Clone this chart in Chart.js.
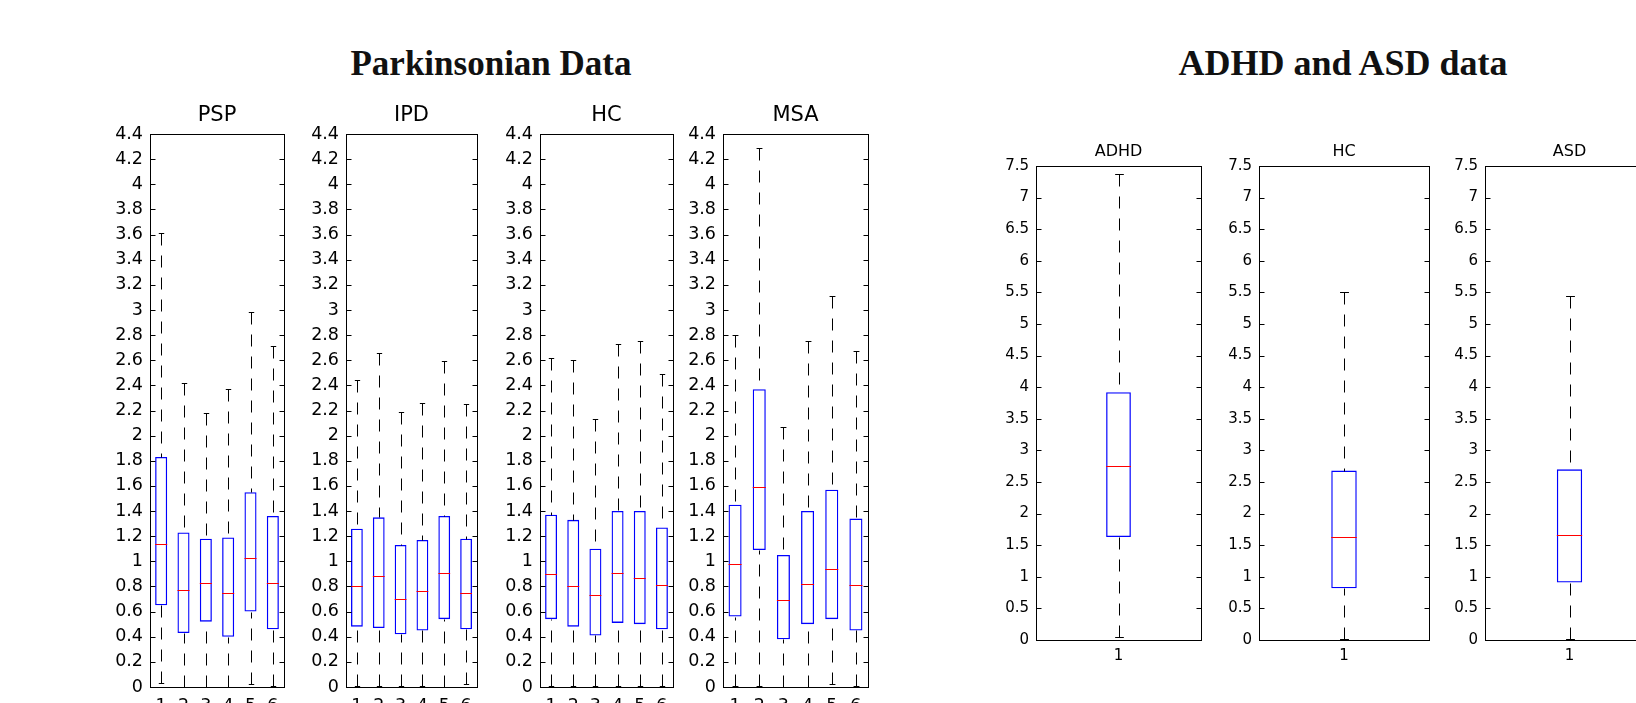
<!DOCTYPE html>
<html>
<head>
<meta charset="utf-8">
<title>Parkinsonian / ADHD and ASD boxplots</title>
<script src="https://cdn.jsdelivr.net/npm/chart.js@4"></script>
<style>
  body { margin: 0; background: #fff; width: 1636px; height: 703px; overflow: hidden; position: relative; }
  .bigtitle { position: absolute; font-family: "Liberation Serif", serif; font-weight: bold; font-size: 35px; line-height: 35px; color: #111; white-space: nowrap; transform: translateX(-50%); }
  canvas { position: absolute; }
</style>
</head>
<body>
<div class="bigtitle" style="left:491px; top:46px">Parkinsonian Data</div>
<div class="bigtitle" style="left:1343px; top:46px; font-size:36px">ADHD and ASD data</div>
<canvas id="psp"></canvas>
<canvas id="ipd"></canvas>
<canvas id="hc"></canvas>
<canvas id="msa"></canvas>
<canvas id="adhd"></canvas>
<canvas id="hc2"></canvas>
<canvas id="asd"></canvas>
<script>
// categories / ticks
const parkLabels = ['1', '2', '3', '4', '5', '6'];
const singleLabel = ['1'];
const parkTicks = [0, 0.2, 0.4, 0.6, 0.8, 1, 1.2, 1.4, 1.6, 1.8, 2, 2.2, 2.4, 2.6, 2.8, 3, 3.2, 3.4, 3.6, 3.8, 4, 4.2, 4.4];
const adTicks = [0, 0.5, 1, 1.5, 2, 2.5, 3, 3.5, 4, 4.5, 5, 5.5, 6, 6.5, 7, 7.5];

// Parkinsonian data (whisker min, Q1, median, Q3, whisker max)
const pspMin = [0.03, 0, 0, 0, 0.02, 0.01];
const pspQ1 = [0.65, 0.43, 0.52, 0.40, 0.60, 0.46];
const pspMed = [1.14, 0.77, 0.83, 0.75, 1.03, 0.83];
const pspQ3 = [1.83, 1.23, 1.18, 1.19, 1.55, 1.36];
const pspMax = [3.61, 2.42, 2.18, 2.37, 2.98, 2.71];

const ipdMin = [0.01, 0.01, 0.01, 0.01, 0, 0.02];
const ipdQ1 = [0.48, 0.47, 0.42, 0.45, 0.54, 0.46];
const ipdMed = [0.80, 0.88, 0.70, 0.76, 0.91, 0.75];
const ipdQ3 = [1.26, 1.35, 1.13, 1.17, 1.36, 1.18];
const ipdMax = [2.44, 2.66, 2.19, 2.26, 2.59, 2.25];

const hcMin = [0.01, 0.01, 0.01, 0.01, 0.01, 0.01];
const hcQ1 = [0.54, 0.48, 0.41, 0.51, 0.50, 0.46];
const hcMed = [0.90, 0.80, 0.73, 0.91, 0.87, 0.81];
const hcQ3 = [1.37, 1.33, 1.10, 1.40, 1.40, 1.27];
const hcMax = [2.62, 2.60, 2.13, 2.73, 2.75, 2.49];

const msaMin = [0.01, 0.01, 0, 0, 0.02, 0.01];
const msaQ1 = [0.56, 1.09, 0.38, 0.50, 0.54, 0.45];
const msaMed = [0.98, 1.59, 0.69, 0.82, 0.94, 0.81];
const msaQ3 = [1.45, 2.37, 1.05, 1.40, 1.57, 1.34];
const msaMax = [2.80, 4.29, 2.07, 2.75, 3.11, 2.67];

// ADHD and ASD data
const adhdMin = [0.04], adhdQ1 = [1.63], adhdMed = [2.75], adhdQ3 = [3.92], adhdMax = [7.38];
const hc2Min = [0.01], hc2Q1 = [0.82], hc2Med = [1.63], hc2Q3 = [2.68], hc2Max = [5.51];
const asdMin = [0.01], asdQ1 = [0.91], asdMed = [1.66], asdQ3 = [2.70], asdMax = [5.45];

// whiskers, caps, medians, frame and inner ticks
const boxDecor = {
  id: 'boxDecor',
  afterDatasetsDraw(chart, args, opts) {
    const ctx = chart.ctx;
    const y = chart.scales.y;
    const py = v => Math.round(y.getPixelForValue(v)) + 0.5;
    ctx.save();
    ctx.lineWidth = 1;
    chart.getDatasetMeta(0).data.forEach((bar, i) => {
      const cx = Math.round(bar.x) + 0.5;
      const half = bar.width / 2;
      const capHalf = half * opts.cap;
      ctx.strokeStyle = '#000';
      ctx.setLineDash([12, 10]);
      ctx.beginPath();
      ctx.moveTo(cx, py(opts.max[i])); ctx.lineTo(cx, py(opts.q3[i]));
      ctx.moveTo(cx, py(opts.min[i])); ctx.lineTo(cx, py(opts.q1[i]));
      ctx.stroke();
      ctx.setLineDash([]);
      ctx.beginPath();
      ctx.moveTo(cx - capHalf, py(opts.max[i])); ctx.lineTo(cx + capHalf, py(opts.max[i]));
      ctx.moveTo(cx - capHalf, py(opts.min[i])); ctx.lineTo(cx + capHalf, py(opts.min[i]));
      ctx.stroke();
      ctx.strokeStyle = '#ff0000';
      ctx.beginPath();
      ctx.moveTo(bar.x - half, py(opts.med[i])); ctx.lineTo(bar.x + half, py(opts.med[i]));
      ctx.stroke();
    });
    ctx.restore();
  },
  afterDraw(chart) {
    const ctx = chart.ctx, a = chart.chartArea, y = chart.scales.y;
    const l = Math.round(a.left) + 0.5, r = Math.round(a.right) + 0.5;
    const t = Math.round(a.top) + 0.5, b = Math.round(a.bottom) + 0.5;
    ctx.save();
    ctx.strokeStyle = '#000';
    ctx.lineWidth = 1;
    ctx.strokeRect(l, t, r - l, b - t);
    ctx.beginPath();
    y.ticks.forEach(tk => {
      const p = Math.round(y.getPixelForValue(tk.value)) + 0.5;
      ctx.moveTo(l, p); ctx.lineTo(l + 5, p);
      ctx.moveTo(r, p); ctx.lineTo(r - 5, p);
    });
    ctx.stroke();
    ctx.restore();
  }
};

const park = { labels: parkLabels, ticks: parkTicks, max: 4.4, t: 134, b: 687, tickSize: 17.5, titleSize: 21, titleGap: 6, xPad: 9, barPct: 0.54, cap: 0.45 };
const ad = { labels: singleLabel, ticks: adTicks, max: 7.5, t: 166, b: 640, tickSize: 15, titleSize: 16, titleGap: 4.5, xPad: 7, barPct: 0.15, cap: 0.35 };

const panels = [
  { id: 'psp', title: 'PSP', g: park, l: 150, r: 284, min: pspMin, q1: pspQ1, med: pspMed, q3: pspQ3, max: pspMax },
  { id: 'ipd', title: 'IPD', g: park, l: 346, r: 477, min: ipdMin, q1: ipdQ1, med: ipdMed, q3: ipdQ3, max: ipdMax },
  { id: 'hc', title: 'HC', g: park, l: 540, r: 673, min: hcMin, q1: hcQ1, med: hcMed, q3: hcQ3, max: hcMax },
  { id: 'msa', title: 'MSA', g: park, l: 723, r: 868, min: msaMin, q1: msaQ1, med: msaMed, q3: msaQ3, max: msaMax },
  { id: 'adhd', title: 'ADHD', g: ad, l: 1036, r: 1201, min: adhdMin, q1: adhdQ1, med: adhdMed, q3: adhdQ3, max: adhdMax },
  { id: 'hc2', title: 'HC', g: ad, l: 1259, r: 1429, min: hc2Min, q1: hc2Q1, med: hc2Med, q3: hc2Q3, max: hc2Max },
  { id: 'asd', title: 'ASD', g: ad, l: 1485, r: 1654, min: asdMin, q1: asdQ1, med: asdMed, q3: asdQ3, max: asdMax }
];

const yW = 70, rightPad = 14, xH = 40;
const fam = '"DejaVu Sans", sans-serif';

panels.forEach(p => {
  const g = p.g;
  const titleH = g.titleSize * 1.2 + g.titleGap;
  const top = Math.floor(g.t - titleH) - 2;
  const cv = document.getElementById(p.id);
  cv.width = p.r - p.l + yW + rightPad;
  cv.height = g.b - top + xH;
  cv.style.left = (p.l - yW) + 'px';
  cv.style.top = top + 'px';

  new Chart(cv, {
    type: 'bar',
    data: {
      labels: g.labels,
      datasets: [{
        data: p.q1.map((v, i) => [v, p.q3[i]]),
        backgroundColor: 'rgba(0,0,0,0)',
        borderColor: '#0000ff',
        borderWidth: 1.3,
        borderSkipped: false,
        barPercentage: g.barPct,
        categoryPercentage: 1
      }]
    },
    options: {
      responsive: false,
      animation: false,
      events: [],
      layout: { padding: { top: g.t - titleH - top, left: 0, right: rightPad, bottom: 0 } },
      plugins: {
        legend: { display: false },
        tooltip: { enabled: false },
        title: {
          display: true, text: p.title, fullSize: false, color: '#000',
          font: { family: fam, size: g.titleSize, weight: 'normal', lineHeight: 1.2 },
          padding: { top: 0, bottom: g.titleGap }
        },
        boxDecor: { min: p.min, q1: p.q1, med: p.med, q3: p.q3, max: p.max, cap: g.cap }
      },
      scales: {
        x: {
          grid: { display: false, drawTicks: false },
          border: { display: false },
          ticks: { color: '#000', padding: g.xPad, font: { family: fam, size: g.tickSize } },
          afterFit: s => { s.height = xH; s.paddingLeft = 0; s.paddingRight = 0; }
        },
        y: {
          min: 0, max: g.max,
          grid: { display: false, drawTicks: false },
          border: { display: false },
          afterBuildTicks: s => { s.ticks = g.ticks.map(v => ({ value: v })); },
          ticks: { autoSkip: false, color: '#000', padding: 7, font: { family: fam, size: g.tickSize }, callback: v => String(v) },
          afterFit: s => { s.width = yW; s.paddingTop = 0; s.paddingBottom = 0; }
        }
      }
    },
    plugins: [boxDecor]
  });
});
</script>
</body>
</html>
